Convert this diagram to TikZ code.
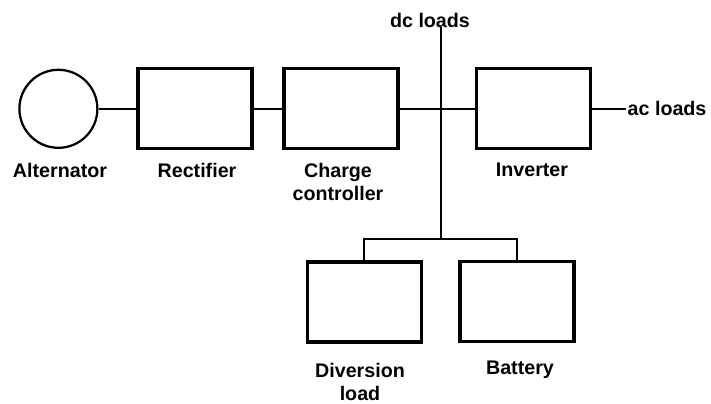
\documentclass[tikz,border=0pt]{standalone}
\usepackage{fontspec}
\setmainfont{Liberation Sans}
\usetikzlibrary{positioning}

\begin{document}
\begin{tikzpicture}[
  blk/.style={draw,line width=2.2pt,minimum width=2.85cm,minimum height=2cm,inner sep=0pt},
  gen/.style={draw,circle,line width=1.6pt,minimum size=1.95cm,inner sep=0pt},
  lbl/.style={font=\fontsize{14}{16}\selectfont\bfseries,align=center,inner sep=1pt},
  wire/.style={line width=1.4pt}]
 \useasboundingbox (0,0) rectangle (17.775,10.1);
 \node[gen] (alt) at (1.46,7.38) {};
 \node[blk] (rect) at (4.875,7.38) {};
 \node[blk] (cc) at (8.525,7.38) {};
 \node[blk] (inv) at (13.34,7.38) {};
 \node[blk] (div) at (9.11,2.55) {};
 \node[blk] (bat) at (12.925,2.57) {};
 \node[lbl] (altl) at (1.5,5.85) {Alternator};
 \node[lbl] (rectl) at (4.925,5.85) {Rectifier};
 \node[lbl] (ccl) at (8.45,5.55) {Charge\\controller};
 \node[lbl] (invl) at (13.3,5.85) {Inverter};
 \node[lbl] (divl) at (9.0,0.55) {Diversion\\load};
 \node[lbl] (batl) at (13.0,0.85) {Battery};
 \node[lbl] (dcl) at (10.75,9.6) {dc loads};
 \node[lbl,anchor=west] (acl) at (15.65,7.38) {ac loads};
 \coordinate (bustop) at (11.025,9.425);
 \coordinate (tee) at (11.025,4.125);
 \foreach \a/\b in {alt/rect,rect/cc,cc/inv,inv/acl} \draw[wire] (\a)--(\b);
 \draw[wire] (bustop)--(tee);
 \draw[wire] (tee) -| (div.north);
 \draw[wire] (tee) -| (bat.north);
\end{tikzpicture}
\end{document}
